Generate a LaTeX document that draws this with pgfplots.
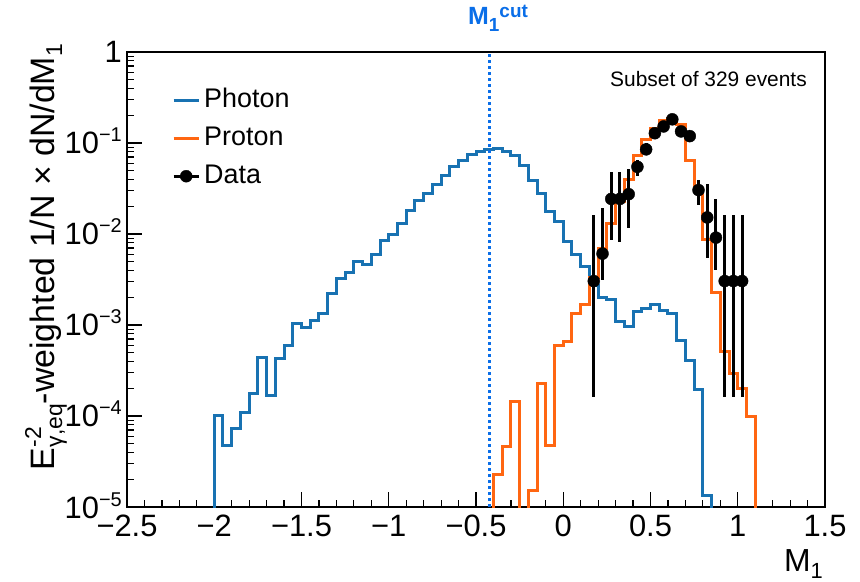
\documentclass[border=0pt]{standalone}
\usepackage{pgfplots}
\pgfplotsset{compat=1.18}
\usepackage{fontspec}
\setmainfont{Liberation Sans}
\definecolor{phot}{RGB}{24,114,178}
\definecolor{prot}{RGB}{255,102,17}
\definecolor{cutc}{RGB}{10,110,232}
\newcommand\fs[1]{\fontsize{#1}{#1}\selectfont}
\newcommand\ylab[1]{10\raisebox{12bp}{\fs{20}−#1}}
\begin{document}
\begin{tikzpicture}[x=1bp,y=1bp]
\useasboundingbox (0,0) rectangle (860,582);
\begin{axis}[
  at={(127bp,75bp)}, anchor=south west, scale only axis, width=698bp, height=455bp,
  ymode=log, xmin=-2.5, xmax=1.5, ymin=1e-5, ymax=1,
  axis line style={line width=1.4bp},
  tick style={line width=1.2bp, black},
  tick align=inside, xtick pos=bottom, ytick pos=left,
  major tick length=15bp, minor tick length=7bp,
  xtick={-2.5,-2,-1.5,-1,-0.5,0,0.5,1,1.5},
  xticklabels={−2.5,−2,−1.5,−1,−0.5,0,0.5,1,1.5},
  minor xtick={-2.4,-2.3,-2.2,-2.1,-1.9,-1.8,-1.7,-1.6,-1.4,-1.3,-1.2,-1.1,-0.9,-0.8,-0.7,-0.6,-0.4,-0.3,-0.2,-0.1,0.1,0.2,0.3,0.4,0.6,0.7,0.8,0.9,1.1,1.2,1.3,1.4},
  ytick={1e-5,1e-4,1e-3,1e-2,1e-1,1},
  yticklabels={\ylab{5},\ylab{4},\ylab{3},\ylab{2},\ylab{1},1},
  minor ytick={2e-5,3e-5,4e-5,5e-5,6e-5,7e-5,8e-5,9e-5,2e-4,3e-4,4e-4,5e-4,6e-4,7e-4,8e-4,9e-4,2e-3,3e-3,4e-3,5e-3,6e-3,7e-3,8e-3,9e-3,2e-2,3e-2,4e-2,5e-2,6e-2,7e-2,8e-2,9e-2,0.2,0.3,0.4,0.5,0.6,0.7,0.8,0.9},
  ticklabel style={font=\fs{31}},
  xticklabel style={anchor=north, inner sep=0pt, yshift=-8bp},
  yticklabel style={anchor=base east, inner sep=0pt, xshift=-5bp, yshift=-11bp},
  legend style={at={(0.0645,0.923)}, anchor=north west, draw=none, fill=none, inner sep=0pt,
    row sep=12bp, column sep=4bp, font=\fs{27},
    nodes={inner xsep=0bp, inner ysep=0bp, text height=20bp, text depth=6bp}},
  legend cell align=left,
  legend image code/.code={\draw[#1] (0bp,0bp) -- (25bp,0bp);},
]
\addplot[phot, line width=3bp, const plot mark left, mark=none] coordinates {
(-2.00,1e-7) (-2.00,1.0e-4) (-1.95,4.7e-5) (-1.90,7.3e-5) (-1.85,1.1e-4) (-1.80,1.75e-4)
(-1.75,4.4e-4) (-1.70,1.67e-4) (-1.65,4.3e-4) (-1.60,6.0e-4) (-1.55,1.05e-3) (-1.50,9.3e-4)
(-1.45,1.12e-3) (-1.40,1.35e-3) (-1.35,2.2e-3) (-1.30,3.25e-3) (-1.25,3.76e-3) (-1.20,5.0e-3)
(-1.15,4.6e-3) (-1.10,6.0e-3) (-1.05,8.5e-3) (-1.00,9.8e-3) (-0.95,1.3e-2) (-0.90,1.8e-2)
(-0.85,2.35e-2) (-0.80,2.8e-2) (-0.75,3.5e-2) (-0.70,4.4e-2) (-0.65,5.5e-2) (-0.60,6.5e-2)
(-0.55,7.4e-2) (-0.50,8.0e-2) (-0.45,8.5e-2) (-0.40,8.6e-2) (-0.35,8.1e-2) (-0.30,7.2e-2)
(-0.25,5.7e-2) (-0.20,3.9e-2) (-0.15,2.8e-2) (-0.10,1.76e-2) (-0.05,1.36e-2) (0.00,8.2e-3)
(0.05,5.9e-3) (0.10,4.4e-3) (0.15,2.75e-3) (0.20,2.0e-3) (0.25,1.9e-3) (0.30,1.09e-3)
(0.35,9.6e-4) (0.40,1.4e-3) (0.45,1.52e-3) (0.50,1.66e-3) (0.55,1.46e-3) (0.60,1.35e-3)
(0.65,6.8e-4) (0.70,4.1e-4) (0.75,1.94e-4) (0.80,1.35e-5) (0.85,1e-7)};
\addlegendentry{Photon}
\addplot[prot, line width=3bp, const plot mark left, mark=none] coordinates {
(-0.40,1e-7) (-0.40,2.25e-5) (-0.35,4.6e-5) (-0.30,1.43e-4) (-0.25,1e-7) (-0.20,1.5e-5)
(-0.15,2.25e-4) (-0.10,4.7e-5) (-0.05,5.9e-4) (0.00,6.6e-4) (0.05,1.33e-3) (0.10,1.7e-3)
(0.15,3.3e-3) (0.20,7.0e-3) (0.25,1.3e-2) (0.30,2.3e-2) (0.35,4.0e-2) (0.40,7.2e-2)
(0.45,0.11) (0.50,0.145) (0.55,0.178) (0.60,0.187) (0.65,0.158) (0.70,6.5e-2)
(0.75,3.2e-2) (0.80,8.6e-3) (0.85,2.3e-3) (0.90,5.1e-4) (0.95,2.95e-4) (1.00,2.0e-4)
(1.05,9.8e-5) (1.10,1e-7)};
\addlegendentry{Proton}
\addplot[black, only marks, mark=*, mark size=6bp, mark options={solid, fill=black},
  legend image code/.code={\draw[black, line width=3bp] (0bp,0bp) -- (25bp,0bp); \fill[black] (12.5bp,0bp) circle (6bp);},
  error bars/.cd, y dir=both, y explicit, error mark=none, error bar style={line width=3bp, black}]
  table[x=x, y=y, y error plus=ep, y error minus=em, row sep=\\] {
x y ep em \\
0.175 3.04e-3 1.296e-2 2.877e-3 \\
0.225 6.08e-3 1.30e-2 2.98e-3 \\
0.275 2.43e-2 2.41e-2 1.57e-2 \\
0.325 2.43e-2 2.41e-2 1.61e-2 \\
0.375 2.74e-2 2.40e-2 1.58e-2 \\
0.425 5.47e-2 1.03e-2 1.17e-2 \\
0.475 8.51e-2 1.40e-2 1.10e-2 \\
0.525 0.128 1.6e-2 1.5e-2 \\
0.575 0.152 1.6e-2 1.5e-2 \\
0.625 0.182 1.8e-2 1.6e-2 \\
0.675 0.134 1.5e-2 1.4e-2 \\
0.725 0.119 1.5e-2 1.4e-2 \\
0.775 3.04e-2 8.6e-3 9.4e-3 \\
0.825 1.52e-2 1.98e-2 9.8e-3 \\
0.875 9.12e-3 1.49e-2 5.1e-3 \\
0.925 3.04e-3 1.296e-2 2.877e-3 \\
0.975 3.04e-3 1.296e-2 2.877e-3 \\
1.025 3.04e-3 1.296e-2 2.877e-3 \\
};
\addlegendentry{Data}
\addplot[cutc, line width=3bp, dash pattern=on 3bp off 3bp, forget plot] coordinates {(-0.425,1e-5) (-0.425,1)};
\end{axis}
\node[anchor=base east, font=\fs{21}, inner sep=0pt] at (807,495.3) {Subset of 329 events};
\node[anchor=base, rotate=90, font=\fs{34}, inner sep=0pt] at (54,325) {E\rlap{\raisebox{13bp}{\fs{23}-2}}\raisebox{-8bp}{\fs{23}γ,eq}-weighted 1/N × dN/dM\raisebox{-8bp}{\fs{23}1}};
\node[anchor=base east, font=\fs{32}, inner sep=0pt] at (823,10) {M\raisebox{-7bp}{\fs{22}1}};
\node[anchor=base west, text=cutc, font=\bfseries\fs{25}, inner sep=0pt] at (468,557) {M\raisebox{-7bp}{\fs{19}1}\raisebox{7bp}{\fs{19}cut}};
\end{tikzpicture}
\end{document}
